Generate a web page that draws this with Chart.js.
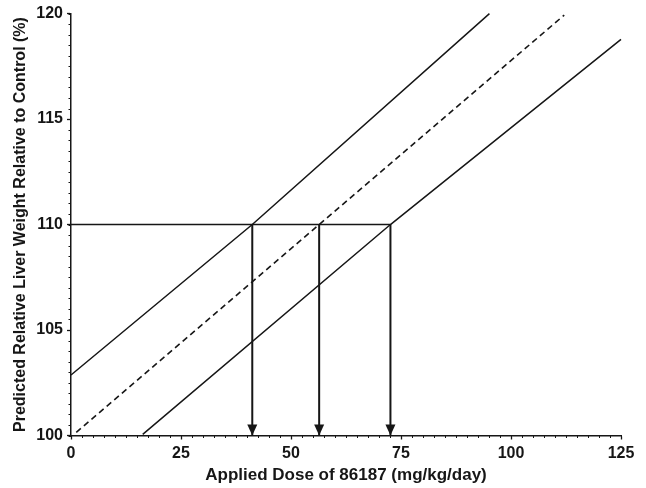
<!DOCTYPE html>
<html>
<head>
<meta charset="utf-8">
<script src="https://cdn.jsdelivr.net/npm/chart.js@4.4.1/dist/chart.umd.min.js"></script>
<style>
  html, body { margin: 0; padding: 0; background: #fff; }
  canvas { display: block; }
</style>
</head>
<body>
<canvas id="chart" width="646" height="488"></canvas>
<script>
// --- DATA ---
const upperX = [0, 41.2, 95.1];
const upperY = [102.87, 110, 120];
const fitX = [1.2, 56.4, 112.1];
const fitY = [100.15, 110, 119.93];
const lowerX = [16.3, 72.6, 125];
const lowerY = [100.05, 110, 118.78];
const targetLevel = 110;
const doseX = [41.2, 56.4, 72.6];
const xTicks = [0, 25, 50, 75, 100, 125];
const yTicks = [100, 105, 110, 115, 120];

const ink = '#161616';
const fontFamily = '"Liberation Sans", Arial, Helvetica, sans-serif';

function toPoints(xs, ys) {
    return xs.map((x, i) => ({ x: x, y: ys[i] }));
}

const datasets = [
    { data: toPoints(upperX, upperY), borderWidth: 1.5 },
    { data: toPoints(fitX, fitY), borderWidth: 1.6, borderDash: [6, 4] },
    { data: toPoints(lowerX, lowerY), borderWidth: 1.5 },
    { data: [{ x: xTicks[0], y: targetLevel }, { x: doseX[doseX.length - 1], y: targetLevel }], borderWidth: 1.5 }
];
doseX.forEach(x => {
    datasets.push({ data: [{ x: x, y: targetLevel }, { x: x, y: yTicks[0] }], borderWidth: 2, arrow: true });
});
datasets.forEach(ds => {
    ds.borderColor = ink;
    ds.pointRadius = 0;
    ds.fill = false;
    ds.tension = 0;
    ds.clip = false;
});

// minor ticks + arrow heads
const extrasPlugin = {
    id: 'extras',
    afterDraw(chart) {
        const ctx = chart.ctx;
        const xs = chart.scales.x;
        const ys = chart.scales.y;
        ctx.save();
        ctx.strokeStyle = ink;
        ctx.lineWidth = 1;
        ctx.beginPath();
        for (let v = xs.min; v <= xs.max + 1e-6; v += 2.5) {
            const px = Math.round(xs.getPixelForValue(v)) + 0.5;
            ctx.moveTo(px, ys.bottom);
            ctx.lineTo(px, ys.bottom + 2.5);
        }
        for (let v = ys.min; v <= ys.max + 1e-6; v += 0.5) {
            const py = Math.round(ys.getPixelForValue(v)) + 0.5;
            ctx.moveTo(xs.left, py);
            ctx.lineTo(xs.left - 2.5, py);
        }
        ctx.stroke();

        ctx.fillStyle = ink;
        chart.data.datasets.forEach(ds => {
            if (!ds.arrow) return;
            const end = ds.data[ds.data.length - 1];
            const tx = xs.getPixelForValue(end.x);
            const ty = ys.getPixelForValue(end.y);
            ctx.beginPath();
            ctx.moveTo(tx, ty);
            ctx.lineTo(tx - 5, ty - 11);
            ctx.lineTo(tx + 5, ty - 11);
            ctx.closePath();
            ctx.fill();
        });
        ctx.restore();
    }
};

new Chart(document.getElementById('chart'), {
    type: 'line',
    data: { datasets: datasets },
    options: {
        responsive: false,
        animation: false,
        devicePixelRatio: 1,
        layout: { padding: { top: 13.5, right: 25, left: 0, bottom: 0 } },
        plugins: { legend: { display: false }, tooltip: { enabled: false } },
        scales: {
            x: {
                type: 'linear',
                min: xTicks[0],
                max: xTicks[xTicks.length - 1],
                afterFit(scale) { scale.height = 52.5; },
                afterBuildTicks(scale) { scale.ticks = xTicks.map(v => ({ value: v })); },
                ticks: { color: ink, padding: 4, font: { family: fontFamily, size: 16, weight: 'bold' } },
                grid: { drawOnChartArea: false, drawTicks: true, tickLength: 4, tickColor: ink, tickWidth: 1.3 },
                border: { display: true, color: ink, width: 1.5 },
                title: {
                    display: true,
                    text: 'Applied Dose of 86187 (mg/kg/day)',
                    color: ink,
                    padding: { top: 0, bottom: 2 },
                    font: { family: fontFamily, size: 17, weight: 'bold' }
                }
            },
            y: {
                type: 'linear',
                min: yTicks[0],
                max: yTicks[yTicks.length - 1],
                afterFit(scale) { scale.width = 71; },
                afterBuildTicks(scale) { scale.ticks = yTicks.map(v => ({ value: v })); },
                ticks: { color: ink, padding: 4, font: { family: fontFamily, size: 16, weight: 'bold' } },
                grid: { drawOnChartArea: false, drawTicks: true, tickLength: 4, tickColor: ink, tickWidth: 1.3 },
                border: { display: true, color: ink, width: 1.5 },
                title: {
                    display: true,
                    text: 'Predicted Relative Liver Weight Relative to Control (%)',
                    color: ink,
                    padding: { top: 11, bottom: 0 },
                    font: { family: fontFamily, size: 16, weight: 'bold' }
                }
            }
        }
    },
    plugins: [extrasPlugin]
});
</script>
</body>
</html>
